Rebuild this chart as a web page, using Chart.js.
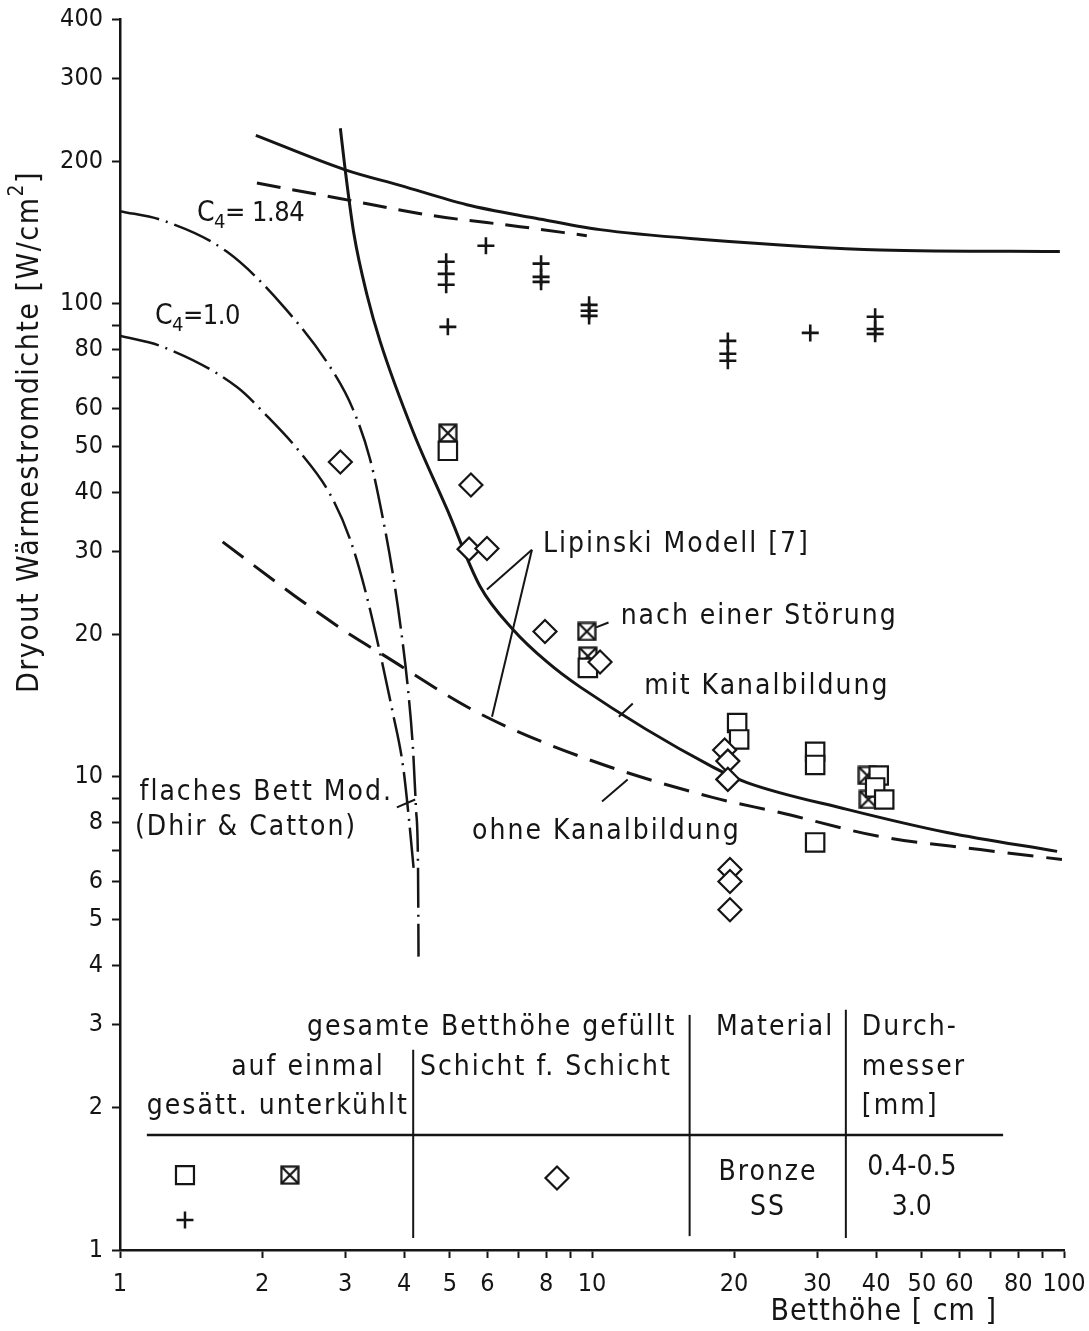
<!DOCTYPE html>
<html>
<head>
<meta charset="utf-8">
<script src="https://cdn.jsdelivr.net/npm/chart.js@4/dist/chart.umd.min.js"></script>
<style>
  html, body { margin: 0; padding: 0; background: #fff; }
</style>
</head>
<body>
<canvas id="myChart" width="1089" height="1331"></canvas>
<script>
const ink = '#151515';
const FONT = '"DejaVu Sans Condensed", "DejaVu Sans", sans-serif';

// Achsen: Betthöhe [cm] (x), Dryout-Wärmestromdichte [W/cm2] (y), beide logarithmisch
const xTicks = [1, 2, 3, 4, 5, 6, 7, 8, 9, 10, 20, 30, 40, 50, 60, 70, 80, 90, 100];
const xLabels = [1, 2, 3, 4, 5, 6, 8, 10, 20, 30, 40, 50, 60, 80, 100];
const yTicks = [1, 2, 3, 4, 5, 6, 7, 8, 9, 10, 20, 30, 40, 50, 60, 70, 80, 90, 100, 200, 300, 400];
const yLabels = [1, 2, 3, 4, 5, 6, 8, 10, 20, 30, 40, 50, 60, 80, 100, 200, 300, 400];

// obere durchgezogene Kurve
const topSolidX = [1.94, 3.0, 3.92, 5.43, 7.5, 10.4, 16.9, 40.8, 98];
const topSolidY = [227, 192, 178, 162, 152, 143.5, 137, 130, 129];

// obere gestrichelte Kurve
const topDashX = [1.95, 2.92, 4.6, 7.04, 9.75];
const topDashY = [180, 167, 153.6, 145.6, 139.3];

// Lipinski Modell, mit Kanalbildung
const lipMitX = [2.93, 3.0, 3.13, 3.34, 3.56, 4.18, 4.93, 5.79, 6.80, 8.03, 9.43, 18.0, 21.3, 34.7, 56.5, 96.7];
const lipMitY = [235, 192, 140.6, 104, 83.1, 53.6, 36.8, 25.3, 20.5, 17.5, 15.5, 10.5, 9.73, 8.54, 7.63, 6.96];

// Lipinski Modell, ohne Kanalbildung
const lipOhneX = [1.65, 2.35, 3.12, 3.55, 5.71, 9.43, 18.0, 25.0, 40.8, 66.4, 99];
const lipOhneY = [31.4, 24.1, 19.8, 18.3, 13.7, 11.05, 9.05, 8.41, 7.48, 7.02, 6.69];

// flaches Bett Modell (Dhir & Catton), C4 = 1.84
const c184X = [1.0, 1.233, 1.686, 2.214, 2.83, 3.115, 3.386, 3.607, 3.787, 3.938, 4.076, 4.177, 4.238, 4.28, 4.29];
const c184Y = [157, 150, 128.8, 99, 71.8, 59.9, 47.0, 35.1, 26.8, 20.5, 15.3, 11.4, 8.54, 6.37, 4.17];

// flaches Bett Modell (Dhir & Catton), C4 = 1.0
const c100X = [1.0, 1.233, 1.769, 2.049, 2.405, 2.786, 3.072, 3.304, 3.555, 3.77, 3.98, 4.095, 4.197];
const c100Y = [85.6, 81.1, 66.7, 57.9, 48.6, 39.6, 31.8, 24.9, 18.3, 13.9, 10.5, 8.13, 6.28];

// Messpunkte: Bronze, auf einmal gefüllt, gesättigt
const sqX = [4.95, 9.8, 20.3, 20.5, 29.7, 29.7, 29.7, 40.5, 39.8, 41.6];
const sqY = [48.9, 17.0, 13.0, 12.0, 11.3, 10.6, 7.27, 10.07, 9.5, 8.96];

// Bronze, auf einmal gefüllt, unterkühlt
const sqxX = [4.95, 9.75, 9.8, 38.3, 38.5];
const sqxY = [53.3, 20.3, 18.0, 10.07, 8.96];

// SS, auf einmal gefüllt, gesättigt
const plusX = [4.91, 4.91, 4.91, 4.95, 5.96, 7.8, 7.8, 7.8, 9.86, 9.86, 9.86, 19.4, 19.4, 19.4, 29.0, 39.8, 39.8, 39.8];
const plusY = [122.7, 115.7, 109.7, 89.4, 132.7, 121.6, 114, 111.3, 99.5, 96.7, 94.3, 83.5, 78.4, 75.8, 86.8, 93.9, 88.5, 86.4];

// Bronze, Schicht für Schicht gefüllt
const diaX = [2.93, 5.54, 5.49, 5.99, 7.95, 10.4, 19.1, 19.4, 19.4, 19.6, 19.6, 19.6];
const diaY = [46.3, 41.4, 30.3, 30.4, 20.3, 17.5, 11.4, 10.8, 9.88, 6.37, 6.01, 5.24];

const pts = (xs, ys) => xs.map((x, i) => ({ x: x, y: ys[i] }));

// Quadrat mit Kreuz als Punktsymbol
function crossedBox(size) {
  const c = document.createElement('canvas');
  c.width = size; c.height = size;
  const g = c.getContext('2d');
  g.fillStyle = '#fff';
  g.fillRect(1, 1, size - 2, size - 2);
  g.strokeStyle = ink;
  g.lineWidth = 2.2;
  g.strokeRect(1.5, 1.5, size - 3, size - 3);
  g.beginPath();
  g.moveTo(2, 2); g.lineTo(size - 2, size - 2);
  g.moveTo(size - 2, 2); g.lineTo(2, size - 2);
  g.stroke();
  return c;
}
const boxX = crossedBox(20);

function curve(xs, ys, dash, width) {
  return {
    data: pts(xs, ys),
    showLine: true,
    borderColor: ink,
    borderWidth: width,
    borderDash: dash,
    pointRadius: 0,
    cubicInterpolationMode: 'monotone',
    fill: false,
  };
}

function marks(xs, ys, style, radius, width) {
  return {
    data: pts(xs, ys),
    showLine: false,
    pointStyle: style,
    pointRadius: radius,
    pointBorderWidth: width,
    pointBorderColor: ink,
    pointBackgroundColor: '#fff',
  };
}

function drawSym(ctx, style, x, y) {
  ctx.save();
  ctx.lineWidth = 2.2;
  ctx.strokeStyle = ink;
  ctx.fillStyle = '#fff';
  ctx.beginPath();
  if (style === 'rect') {
    ctx.rect(x - 9, y - 9, 18, 18);
  } else if (style === 'rectRot') {
    ctx.moveTo(x, y - 11.5); ctx.lineTo(x + 11.5, y);
    ctx.lineTo(x, y + 11.5); ctx.lineTo(x - 11.5, y); ctx.closePath();
  } else if (style === 'cross') {
    ctx.lineWidth = 2.5;
    ctx.moveTo(x - 8.5, y); ctx.lineTo(x + 8.5, y);
    ctx.moveTo(x, y - 8.5); ctx.lineTo(x, y + 8.5);
  } else {
    ctx.drawImage(boxX, x - 10, y - 10);
  }
  ctx.stroke();
  ctx.restore();
}

// Beschriftungen, Hinweislinien und Tabelle im Diagramm
const notes = {
  id: 'notes',
  afterDraw(chart) {
    const { ctx, chartArea } = chart;
    const sx = chart.scales.x, sy = chart.scales.y;
    const X = (v) => sx.getPixelForValue(v);
    const Y = (v) => sy.getPixelForValue(v);

    ctx.save();
    ctx.fillStyle = ink;
    ctx.strokeStyle = ink;
    ctx.textBaseline = 'middle';

    const text = (t, x, y, align) => {
      ctx.textAlign = align || 'left';
      ctx.fillText(t, X(x), Y(y));
    };
    const seg = (x1, y1, x2, y2, w) => {
      ctx.lineWidth = w || 2;
      ctx.beginPath();
      ctx.moveTo(X(x1), Y(y1));
      ctx.lineTo(X(x2), Y(y2));
      ctx.stroke();
    };
    const cSub = (x, y, sub, rest) => {
      let px = X(x);
      const py = Y(y);
      ctx.textAlign = 'left';
      ctx.font = '28px ' + FONT;
      ctx.fillText('C', px, py);
      px += ctx.measureText('C').width;
      ctx.font = '20px ' + FONT;
      ctx.fillText(sub, px, py + 9);
      px += ctx.measureText(sub).width;
      ctx.font = '27px ' + FONT;
      ctx.fillText(rest, px, py);
    };

    ctx.letterSpacing = '-0.5px';
    cSub(1.456, 155, '4', '= 1.84');
    cSub(1.186, 93.9, '4', '=1.0');

    ctx.font = '28px ' + FONT;
    ctx.letterSpacing = '2px';
    text('Lipinski Modell [7]', 7.87, 31.0);
    text('nach einer Störung', 11.5, 21.8);
    text('mit Kanalbildung', 12.9, 15.5);
    text('ohne Kanalbildung', 5.57, 7.67);
    text('flaches Bett Mod.', 1.10, 9.28);
    text('(Dhir & Catton)', 1.076, 7.82);

    // Hinweislinien
    seg(7.46, 30.2, 5.99, 24.9);
    seg(7.46, 30.2, 6.14, 13.4);
    seg(10.84, 21.2, 10.2, 20.7);
    seg(12.2, 14.3, 11.4, 13.4);
    seg(11.9, 9.88, 10.5, 8.87);
    seg(3.86, 8.62, 4.22, 8.96);

    // Tabelle
    text('gesamte Betthöhe gefüllt', 15.1, 2.95, 'right');
    text('auf einmal', 3.64, 2.43, 'right');
    text('Schicht f. Schicht', 4.32, 2.43);
    text('gesätt. unterkühlt', 1.14, 2.01);
    text('Material', 18.3, 2.95);
    text('Durch-', 37.3, 2.95);
    text('messer', 37.3, 2.43);
    text('[mm]', 37.3, 2.01);
    text('Bronze', 23.6, 1.46, 'center');
    text('SS', 23.6, 1.227, 'center');
    ctx.letterSpacing = '0px';
    text('0.4-0.5', 47.6, 1.49, 'center');
    text('3.0', 47.6, 1.227, 'center');

    seg(1.14, 1.751, 74.3, 1.751, 2.5);
    seg(4.18, 2.65, 4.18, 1.06);
    seg(16.1, 3.14, 16.1, 1.07);
    seg(34.5, 3.22, 34.5, 1.06);

    drawSym(ctx, 'rect', X(1.373), Y(1.44));
    drawSym(ctx, 'box', X(2.29), Y(1.44));
    drawSym(ctx, 'cross', X(1.373), Y(1.157));
    drawSym(ctx, 'rectRot', X(8.43), Y(1.42));

    // Achsentitel
    ctx.save();
    ctx.letterSpacing = '1.5px';
    ctx.translate(chartArea.left - 90, chartArea.top + 413);
    ctx.rotate(-Math.PI / 2);
    ctx.font = '30px ' + FONT;
    const main = 'Dryout Wärmestromdichte [W/cm';
    const wMain = ctx.measureText(main).width;
    const wEnd = ctx.measureText(']').width;
    ctx.font = '21px ' + FONT;
    const wSup = ctx.measureText('2').width;
    let px = -(wMain + wSup + wEnd) / 2;
    ctx.textAlign = 'left';
    ctx.font = '30px ' + FONT;
    ctx.fillText(main, px, 0);
    px += wMain;
    ctx.font = '21px ' + FONT;
    ctx.fillText('2', px, -12);
    px += wSup;
    ctx.font = '30px ' + FONT;
    ctx.fillText(']', px, 0);
    ctx.restore();

    ctx.letterSpacing = '1px';
    ctx.font = '30px ' + FONT;
    ctx.textAlign = 'center';
    ctx.fillText('Betthöhe [ cm ]', X(41.5), chartArea.bottom + 62);

    ctx.restore();
  }
};

const config = {
  type: 'scatter',
  data: {
    datasets: [
      marks(diaX, diaY, 'rectRot', 11.5, 2.2),
      marks(sqX, sqY, 'rect', 13, 2.2),
      marks(sqxX, sqxY, boxX, 10, 2.2),
      marks(plusX, plusY, 'cross', 8.5, 2.6),
      curve(topSolidX, topSolidY, [], 3),
      curve(topDashX, topDashY, [24, 12], 3),
      curve(lipMitX, lipMitY, [], 3),
      curve(lipOhneX, lipOhneY, [26, 13], 3),
      curve(c184X, c184Y, [40, 7, 2, 7], 2.5),
      curve(c100X, c100Y, [40, 7, 2, 7], 2.5),
    ],
  },
  options: {
    responsive: false,
    animation: false,
    layout: { padding: { top: 19, right: 25, left: 0, bottom: 0 } },
    plugins: {
      legend: { display: false },
      tooltip: { enabled: false },
    },
    scales: {
      x: {
        type: 'logarithmic',
        min: 1,
        max: 100,
        afterBuildTicks: (axis) => { axis.ticks = xTicks.map((v) => ({ value: v })); },
        afterFit: (axis) => {
          axis.height = 81;
          axis.paddingLeft = 0;
          axis.paddingRight = 0;
        },
        border: { display: true, color: ink, width: 2.5 },
        grid: { drawOnChartArea: false, drawTicks: true, tickLength: 8, tickWidth: 2, tickColor: ink },
        ticks: {
          autoSkip: false,
          maxRotation: 0,
          padding: 11,
          color: ink,
          font: { family: FONT, size: 25 },
          callback: (v) => (xLabels.includes(v) ? String(v) : ''),
        },
      },
      y: {
        type: 'logarithmic',
        min: 1,
        max: 400,
        afterBuildTicks: (axis) => { axis.ticks = yTicks.map((v) => ({ value: v })); },
        afterFit: (axis) => {
          axis.width = 120;
          axis.paddingTop = 0;
          axis.paddingBottom = 0;
        },
        border: { display: true, color: ink, width: 2.5 },
        grid: { drawOnChartArea: false, drawTicks: true, tickLength: 8, tickWidth: 2, tickColor: ink },
        ticks: {
          autoSkip: false,
          padding: 9,
          color: ink,
          font: { family: FONT, size: 25 },
          callback: (v) => (yLabels.includes(v) ? String(v) : ''),
        },
      },
    },
  },
  plugins: [notes],
};

new Chart(document.getElementById('myChart'), config);
</script>
</body>
</html>
